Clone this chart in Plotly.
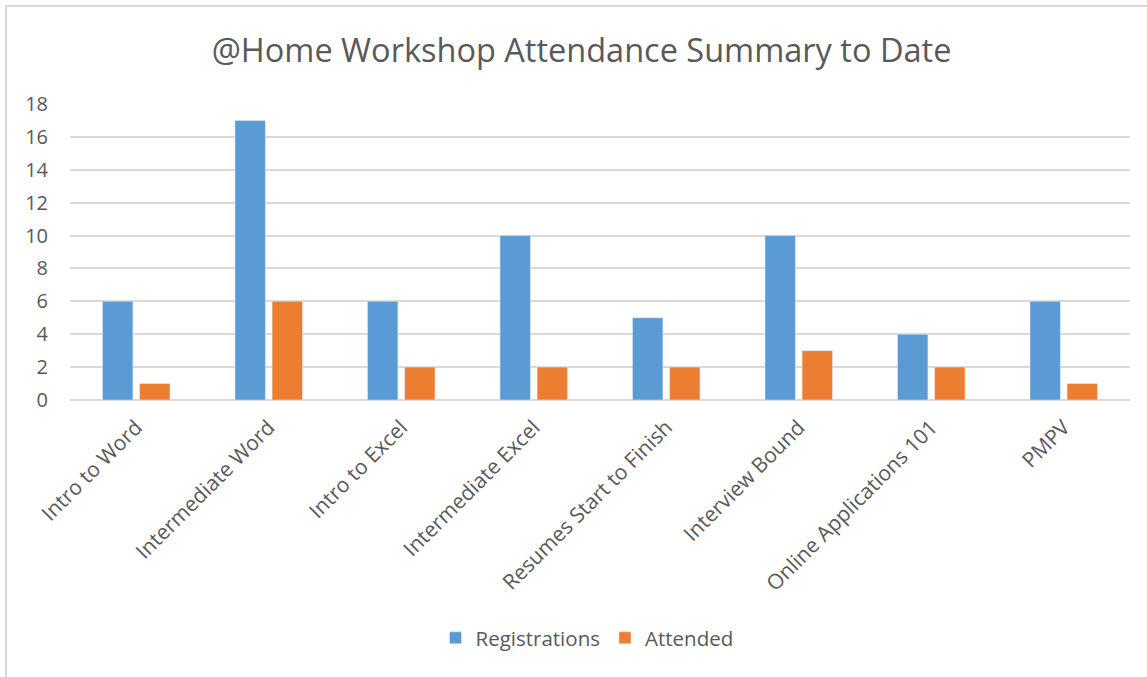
import plotly.graph_objects as go

categories = ["Intro to Word", "Intermediate Word", "Intro to Excel", "Intermediate Excel",
              "Resumes Start to Finish", "Interview Bound", "Online Applications 101", "PMPV"]
registrations = [6, 17, 6, 10, 5, 10, 4, 6]
attended = [1, 6, 2, 2, 2, 3, 2, 1]

FONT = "Open Sans"
GREY = "#595959"

fig = go.Figure()
fig.add_trace(go.Bar(name="Registrations", x=categories, y=registrations, marker_color="#5B9BD5"))
fig.add_trace(go.Bar(name="Attended", x=categories, y=attended, marker_color="#ED7D31"))

L, R, T, B = 70, 1130, 104, 400
W, H = 1147, 677
pw, ph = R - L, B - T

def px(x):
    return (x - L) / pw

def py(y):
    return (B - y) / ph

fig.update_layout(
    width=W, height=H,
    margin=dict(l=L, r=W - R, t=T, b=H - B, autoexpand=False),
    paper_bgcolor="white", plot_bgcolor="white",
    font=dict(family=FONT, color=GREY, size=20),
    title=dict(text="@Home Workshop Attendance Summary to Date", x=0.507, xanchor="center",
               y=1 - 51 / H, yanchor="middle", font=dict(size=32.5, color=GREY, family=FONT)),
    barmode="group", bargap=0.44, bargroupgap=0.18,
    legend=dict(orientation="h", x=px(587), xanchor="center", y=py(638), yanchor="middle",
                font=dict(size=20.5, color=GREY), itemwidth=30, bgcolor="rgba(0,0,0,0)"),
    showlegend=True,
    shapes=[dict(type="rect", xref="paper", yref="paper",
                 x0=px(6), x1=px(1160), y0=py(690), y1=py(6),
                 line=dict(color="#D9D9D9", width=2), fillcolor="rgba(0,0,0,0)", layer="below")],
)
fig.update_yaxes(range=[0, 18], dtick=2, showgrid=True, gridcolor="#D9D9D9", gridwidth=1.5,
                 zeroline=True, zerolinecolor="#D9D9D9", zerolinewidth=2,
                 showline=False, ticks="", ticklabelstandoff=21, automargin=False,
                 tickfont=dict(size=20, color=GREY))
fig.update_xaxes(tickangle=-45, showgrid=False, showline=False, ticks="", automargin=False,
                 tickfont=dict(size=21, color=GREY), ticklabelstandoff=10)

fig.write_html("out.html", config={"displayModeBar": False},
               post_script="document.body.style.margin='0';")
